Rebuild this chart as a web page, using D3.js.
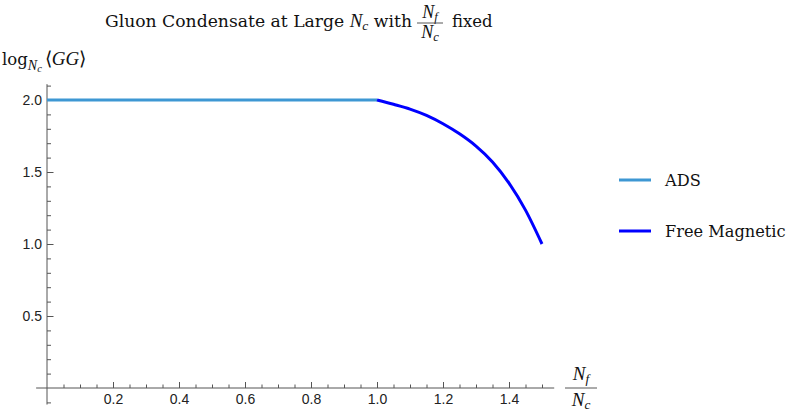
<!DOCTYPE html>
<html><head><meta charset="utf-8">
<script src="https://cdn.jsdelivr.net/npm/d3@7"></script>
<style>body{margin:0;background:#fff}svg{display:block}</style>
</head><body>
<svg id="c" width="797" height="416"></svg>
<script>
// ---- data ----
const adsX = [0.0, 1.0];
const adsY = [2.0, 2.0];
const freeX = [1.00, 1.05, 1.10, 1.15, 1.20, 1.25, 1.30, 1.35, 1.40, 1.45, 1.50];
const freeY = [2.000, 1.970, 1.937, 1.893, 1.835, 1.765, 1.680, 1.570, 1.423, 1.235, 1.000];
const xTicks = [0.2, 0.4, 0.6, 0.8, 1.0, 1.2, 1.4];
const yTicks = [0.5, 1.0, 1.5, 2.0];
const seriesNames = ["ADS", "Free Magnetic"];
const seriesColors = ["#3d97d3", "#0000ff"];

const svg = d3.select("#c");
const serif = "'DejaVu Serif', serif";
const mathF = "'Liberation Serif', 'Times New Roman', serif";
const sans = "'Liberation Sans', Arial, sans-serif";
const axisCol = "#555";
const txtCol = "#111";

const x = d3.scaleLinear().domain([0, 1.5]).range([47, 542]);
const y = d3.scaleLinear().domain([0, 2]).range([388, 100]);

// axes lines
svg.append("line").attr("x1", x(-0.033)).attr("x2", x(1.537)).attr("y1", y(0)).attr("y2", y(0))
  .attr("stroke", axisCol).attr("stroke-width", 1);
svg.append("line").attr("x1", x(0)).attr("x2", x(0)).attr("y1", y(2.11)).attr("y2", y(-0.115))
  .attr("stroke", axisCol).attr("stroke-width", 1);

// x ticks
const xMinor = d3.range(1, 31).map(i => i * 0.05).filter(v => !xTicks.some(t => Math.abs(t - v) < 1e-6));
const gx = svg.append("g").attr("transform", `translate(0,${y(0)})`);
gx.call(d3.axisBottom(x).tickValues(xMinor).tickSize(-3.5).tickFormat(""));
gx.select(".domain").remove();
const gx2 = svg.append("g").attr("transform", `translate(0,${y(0)})`);
gx2.call(d3.axisBottom(x).tickValues(xTicks).tickSize(-6).tickPadding(6).tickFormat(d3.format(".1f")));
gx2.select(".domain").remove();
[gx, gx2].forEach(g => {
  g.selectAll("line").attr("stroke", axisCol);
  g.selectAll("text").attr("font-family", sans).attr("font-size", 14).attr("fill", "#222");
});

// y ticks
const yMinor = d3.range(-1, 22).map(i => i * 0.1).filter(v => !yTicks.some(t => Math.abs(t - v) < 1e-6) && Math.abs(v) > 1e-6);
const gy = svg.append("g").attr("transform", `translate(${x(0)},0)`);
gy.call(d3.axisLeft(y).tickValues(yMinor).tickSize(-4).tickFormat(""));
gy.select(".domain").remove();
const gy2 = svg.append("g").attr("transform", `translate(${x(0)},0)`);
gy2.call(d3.axisLeft(y).tickValues(yTicks).tickSize(-6.5).tickPadding(5).tickFormat(d3.format(".1f")));
gy2.select(".domain").remove();
[gy, gy2].forEach(g => {
  g.selectAll("line").attr("stroke", axisCol);
  g.selectAll("text").attr("font-family", sans).attr("font-size", 14).attr("fill", "#222");
});

// series
const line = d3.line().x(d => x(d[0])).y(d => y(d[1])).curve(d3.curveMonotoneX);
svg.append("path").datum(adsX.map((v, i) => [v, adsY[i]])).attr("d", line)
  .attr("fill", "none").attr("stroke", seriesColors[0]).attr("stroke-width", 3);
svg.append("path").datum(freeX.map((v, i) => [v, freeY[i]])).attr("d", line)
  .attr("fill", "none").attr("stroke", seriesColors[1]).attr("stroke-width", 3);

// legend
seriesNames.forEach((n, i) => {
  const ly = 180 + i * 51;
  svg.append("line").attr("x1", 619).attr("x2", 651).attr("y1", ly).attr("y2", ly)
    .attr("stroke", seriesColors[i]).attr("stroke-width", 3);
  svg.append("text").attr("x", 665).attr("y", ly + 6).attr("font-family", serif).attr("font-size", 16.2)
    .attr("fill", txtCol).text(n);
});

// helper for fraction N_f / N_c
function frac(cx, barY, size, w, numOff, denOff) {
  const g = svg.append("g").attr("font-family", mathF).attr("font-size", size).attr("fill", txtCol);
  const num = g.append("text").attr("x", cx).attr("y", barY - numOff).attr("text-anchor", "middle");
  num.append("tspan").attr("font-style", "italic").text("N");
  num.append("tspan").attr("font-style", "italic").attr("font-size", size * 0.7).attr("dy", 3).text("f");
  const den = g.append("text").attr("x", cx).attr("y", barY + denOff).attr("text-anchor", "middle");
  den.append("tspan").attr("font-style", "italic").text("N");
  den.append("tspan").attr("font-style", "italic").attr("font-size", size * 0.7).attr("dy", 3).text("c");
  g.append("line").attr("x1", cx - w / 2).attr("x2", cx + w / 2).attr("y1", barY).attr("y2", barY)
    .attr("stroke", "#444").attr("stroke-width", 0.9);
}

// title
const t1 = svg.append("text").attr("x", 412).attr("y", 27).attr("text-anchor", "end")
  .attr("font-family", serif).attr("font-size", 17.2).attr("fill", txtCol);
t1.append("tspan").text("Gluon Condensate at Large ");
t1.append("tspan").attr("font-family", mathF).attr("font-size", 19).attr("font-style", "italic").text("N");
t1.append("tspan").attr("font-family", mathF).attr("font-style", "italic").attr("font-size", 13.5).attr("dy", 3).text("c");
t1.append("tspan").attr("dy", -3).text(" with");
frac(430, 23, 18, 26, 5, 15);
svg.append("text").attr("x", 452).attr("y", 27).attr("font-family", serif).attr("font-size", 16.5)
  .attr("fill", txtCol).text("fixed");

// y axis label
const yl = svg.append("text").attr("x", 2).attr("y", 65).attr("font-family", serif).attr("font-size", 16.5).attr("fill", txtCol);
yl.append("tspan").text("log");
yl.append("tspan").attr("font-family", mathF).attr("font-style", "italic").attr("font-size", 14).attr("dy", 5).text("N");
yl.append("tspan").attr("font-family", mathF).attr("font-style", "italic").attr("font-size", 10.5).attr("dy", 2).text("c");
yl.append("tspan").attr("dy", -7).attr("dx", 3).attr("font-family", mathF).attr("font-size", 19).text("\u27E8");
yl.append("tspan").attr("font-family", mathF).attr("font-size", 19).attr("font-style", "italic").text("GG");
yl.append("tspan").attr("font-family", mathF).attr("font-size", 19).text("\u27E9");

// x axis label
frac(581, 388, 19, 32, 8, 18);
</script>
</body></html>
